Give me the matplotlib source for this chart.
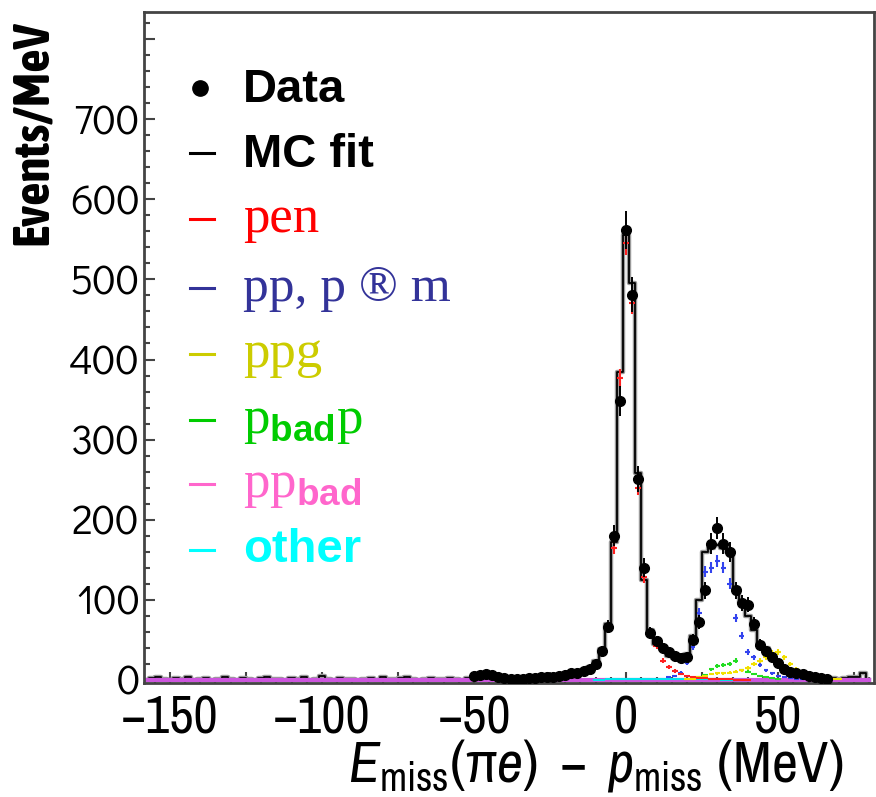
import numpy as np
import matplotlib
matplotlib.use('Agg')
import matplotlib.pyplot as plt
from matplotlib.lines import Line2D
from matplotlib import font_manager
from matplotlib.ticker import MultipleLocator, FuncFormatter

# bin centres, 2 MeV bins
centers = np.arange(-160, 82, 2)

# MC fit, -160 .. -32 (low background) then -30 .. 80
mc_left = [1, 0, 2, 4, 1,  0, 2, 1, 3, 0,  1, 2, 0, 1, 3,  1, 0, 2, 1, 0,
           2, 4, 1, 1, 0,  2, 1, 3, 0, 1,  5, 1, 0, 2, 1,  1, 0, 1, 2, 0,
           3, 1, 1, 2, 4,  1, 0, 1, 2, 1,  1, 2, 1, 0, 2,  4, 6, 6, 5, 4,
           2, 1, 1, 2, 2]
mc_right = [2, 3, 3, 4, 4, 5, 7, 9, 12, 16, 24, 38, 70, 172, 385,
            555, 495, 258, 125, 62, 45, 38, 30, 27, 25, 32, 55, 100, 160, 165,
            168, 165, 160, 115, 96, 80, 62, 46, 40, 30, 22, 15, 10, 8, 6,
            5, 4, 3, 2, 2, 1, 2, 3, 4, 9, 0]
mc_fit = np.array(mc_left + mc_right, dtype=float)

# data points, -50 .. 66
data_x = np.arange(-50, 68, 2)
data = np.array([5, 6, 7, 6, 4, 2, 1, 1, 1, 2,
                 2, 3, 3, 4, 5, 6, 8, 9, 11, 14,
                 20, 36, 66, 180, 348, 562, 481, 251, 140, 58,
                 48, 40, 35, 30, 27, 28, 50, 72, 112, 170,
                 190, 170, 160, 112, 96, 94, 70, 44, 36, 28,
                 21, 13, 10, 8, 7, 5, 3, 2, 1], dtype=float)

# components
pen_x = np.arange(-30, 42, 2)
pen = np.array([2, 2, 3, 3, 4, 5, 6, 8, 10, 13, 18, 33, 65, 165, 377,
                545, 470, 240, 128, 58, 42, 24, 16, 11, 7, 5, 3, 2, 2, 1,
                1, 1, 1, 0, 0, 0], dtype=float)
pimu_x = np.arange(14, 62, 2)
pimu = np.array([3, 5, 9, 21, 41, 84, 135, 140, 148, 140, 120, 77,
                 55, 35, 28, 18, 12, 8, 5, 3, 2, 1, 1, 0], dtype=float)
ppg_x = np.arange(20, 72, 2)
ppg = np.array([1, 1, 3, 5, 7, 8, 8, 9, 10, 12, 15, 20, 24,
                28, 34, 35, 28, 20, 14, 10, 7, 5, 3, 2, 1, 1], dtype=float)
pbadp_x = np.arange(20, 52, 2)
pbadp = np.array([1, 2, 3, 6, 13, 17, 18, 20, 24, 12, 10, 7, 5, 3, 2, 1], dtype=float)
ppbad = np.zeros(len(centers))
other_x = np.arange(-10, 42, 2)
other = np.array([0, 0, 1, 1, 1, 1, 1, 1, 1, 1, 1, 1, 1,
                  1, 1, 1, 1, 1, 1, 1, 1, 0, 0, 0, 0, 0], dtype=float)

names = {f.name for f in font_manager.fontManager.ttflist}


def pick(*fams):
    for f in fams:
        if f in names:
            return f
    return 'DejaVu Sans'


NARROW = pick('Archivo Narrow', 'Asap Condensed', 'Liberation Sans')
NARROW_BOLD = pick('Asap Condensed', 'Liberation Sans')
ROUND = pick('Didact Gothic', 'Questrial', 'Poppins', 'DejaVu Sans')

plt.rcParams['mathtext.fontset'] = 'custom'
plt.rcParams['mathtext.rm'] = 'Liberation Serif'
plt.rcParams['mathtext.bf'] = 'Liberation Sans:bold'
plt.rcParams['mathtext.it'] = NARROW + ':italic'
plt.rcParams['mathtext.sf'] = NARROW

W, H = 876, 797


def fx(px):
    return px / W


def fy(py):
    return 1 - py / H


fig = plt.figure(figsize=(W / 100, H / 100), dpi=100)
ax = fig.add_axes([fx(144), fy(683), fx(874) - fx(144), fy(12) - fy(683)])

# MC fit histogram
ax.step(centers, mc_fit, where='mid', color='#9a9a9a', lw=3.2, zorder=2)
ax.step(centers, mc_fit, where='mid', color='black', lw=1.3, zorder=2.1)

# components
ax.step(centers, ppbad, where='mid', color='#cc55dd', lw=3, zorder=2.5)
ax.errorbar(other_x, other, xerr=1, yerr=0.5, fmt='none', ecolor='#00e5ee', elinewidth=1.5, zorder=3)
ax.errorbar(pbadp_x, pbadp, xerr=0.9, yerr=np.sqrt(pbadp) * 0.6, fmt='none',
            ecolor='#22dd22', elinewidth=1.5, zorder=3)
ax.errorbar(ppg_x, ppg, xerr=0.9, yerr=np.sqrt(ppg) * 0.6, fmt='none',
            ecolor='#f2e000', elinewidth=1.5, zorder=3)
ax.errorbar(pimu_x, pimu, xerr=0.8, yerr=np.sqrt(pimu) * 0.6, fmt='none',
            ecolor='#3344ee', elinewidth=1.5, zorder=3)
ax.errorbar(pen_x, pen, xerr=1, yerr=np.sqrt(pen) * 0.6, fmt='none',
            ecolor='#ff2020', elinewidth=1.5, zorder=3.2)

# data
ax.errorbar(data_x, data, yerr=np.sqrt(data), fmt='o', color='black', ms=7,
            elinewidth=1.4, capsize=0, zorder=4)

ax.set_xlim(-158.5, 81.5)
ax.set_ylim(-4, 834)

for s in ax.spines.values():
    s.set_color('#444444')
    s.set_linewidth(2)

ax.xaxis.set_major_locator(MultipleLocator(25))
ax.xaxis.set_minor_locator(MultipleLocator(5))
ax.xaxis.set_major_formatter(FuncFormatter(
    lambda v, p: ('\u2212%d' % -v if v < 0 else '%d' % v) if v % 50 == 0 else ''))
ax.yaxis.set_major_locator(MultipleLocator(100))
ax.yaxis.set_minor_locator(MultipleLocator(20))
ax.yaxis.set_major_formatter(FuncFormatter(lambda v, p: '%d' % v if v <= 700 else ''))
ax.tick_params(which='both', direction='in', top=False, right=False, color='#444444', width=1.5)
ax.tick_params(which='major', length=8)
ax.tick_params(which='minor', length=4)
ax.tick_params(axis='y', which='major', pad=3)
ax.tick_params(axis='x', which='major', pad=8)
for lab in ax.get_yticklabels():
    lab.set_fontfamily(ROUND)
    lab.set_fontsize(30)
for lab in ax.get_xticklabels():
    lab.set_fontfamily(NARROW)
    lab.set_fontsize(38)

fig.text(fx(33), fy(133), 'Events/MeV', rotation=90, ha='center', va='center',
         fontsize=37, fontweight='bold', family=NARROW_BOLD)
fig.text(fx(596), fy(782),
         r'$\mathit{E}_{\mathsf{miss}}\mathsf{(\pi}\mathit{e}\mathsf{)\ -\ }\mathit{p}_{\mathsf{miss}}\mathsf{\ (MeV)}$',
         ha='center', va='baseline', fontsize=41)

# legend
fig.add_artist(Line2D([fx(200)], [fy(88)], marker='o', color='black', ms=11,
                      transform=fig.transFigure))
entries = [
    ('MC fit', 'black', 153, 167, dict(family='Liberation Sans', fontweight='bold', fontsize=34)),
    ('pen', '#ff0000', 219, 232, dict(family='Liberation Serif', fontsize=38)),
    ('pp, p \u00ae m', '#333399', 288, 301, dict(family='Liberation Serif', fontsize=37)),
    ('ppg', '#cccc00', 354, 367, dict(family='Liberation Serif', fontsize=38)),
    (r'$\mathrm{p}_{\mathbf{bad}}\mathrm{p}$', '#00cc00', 420, 433, dict(fontsize=38)),
    (r'$\mathrm{pp}_{\mathbf{bad}}$', '#ff66cc', 484, 497, dict(fontsize=38)),
    ('other', '#00ffff', 550, 562, dict(family='Liberation Sans', fontweight='bold', fontsize=34)),
]
fig.text(fx(243), fy(102), 'Data', color='black', va='baseline',
         family='Liberation Sans', fontweight='bold', fontsize=34)
for label, col, ydash, ybase, kw in entries:
    fig.add_artist(Line2D([fx(190), fx(214)], [fy(ydash), fy(ydash)], color=col, lw=2.2,
                          transform=fig.transFigure))
    fig.text(fx(243), fy(ybase), label, color=col, va='baseline', **kw)

fig.savefig('out.png', dpi=100)
